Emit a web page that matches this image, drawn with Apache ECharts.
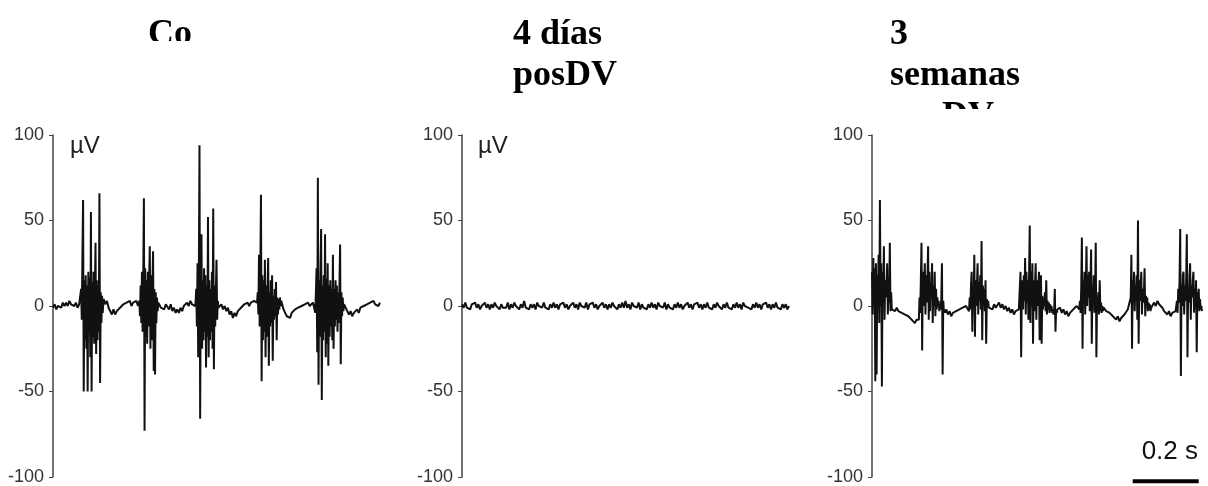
<!DOCTYPE html>
<html>
<head>
<meta charset="utf-8">
<script src="https://cdn.jsdelivr.net/npm/echarts@6/dist/echarts.min.js"></script>
<style>
	html, body { margin: 0; padding: 0; background: #fff; }
	#chart { width: 1208px; height: 486px; }
</style>
</head>
<body>
<div id="chart"></div>
<script>
// baseline every 5 ms (0..1000), bursts every 2 ms from their start time
var baseStep = 5,
	burstStep = 2;

var ctrlBase = [
	-1, 1, -2, 0, 1, -1, 2, 0, 2, 0,
	3, 1, 2, 0, 2, -1, 1, 0, 0, 0,
	0, 0, 0, 0, 0, 0, 0, 0, 0, 0,
	0, 4, 1, 3, -1, -2, -5, -2, -5, -3,
	-4, -1, -2, 1, 0, 2, 1, 3, 0, 2,
	1, 3, 0, 0, 0, 0, 0, 0, 0, 0,
	0, 0, 0, 0, 0, 2, -1, 0, -2, 1,
	0, -2, 1, -3, -1, -4, -2, -4, -1, -3,
	0, -1, 2, 0, 3, 1, 2, 0, 0, 0,
	0, 0, 0, 0, 0, 0, 0, 0, 0, 0,
	0, 2, -1, 1, -2, 0, -3, -1, -5, -3,
	-7, -4, -6, -3, -4, -1, -2, 1, 0, 2,
	0, 2, 1, 3, 2, 0, 0, 0, 0, 0,
	0, 0, 0, 0, 0, 0, 0, 0, 0, 0,
	3, -2, -4, -6, -5, -7, -4, -5, -2, -3,
	-1, -2, 0, -1, 1, 0, 2, 0, 1, 2,
	0, 0, 0, 0, 0, 0, 0, 0, 0, 0,
	0, 0, 0, 0, 0, 0, 0, 0, 0, -1,
	-3, -5, -3, -6, -4, -5, -2, -4, -1, -2,
	0, -1, 1, 0, 2, 1, 3, 1, 2, 0,
	2
];
var ctrlBurstStart = [84, 264, 436, 624, 800];
var ctrlBursts = [
	[2, 10, -8, 30, 62, -50, 15, -20, 18, -25, 12, -50, 20, -15, 17, -30, 55, -50, 14, -18,
		20, -22, 10, 37, -28, 15, -20, 12, -15, 66, -45, 8, -10, 6, -4, 2],
	[3, -6, 12, -10, 20, -15, 18, 63, -73, 22, -18, 15, -22, 20, -12, 16, 35, -25, 18, -20,
		12, 32, -38, 10, -40, 8, -10, 5, -3, 2],
	[2, 10, -12, 25, -30, 18, 94, -66, 20, 42, -25, 15, -20, 22, -15, 18, -36, 12, -18, 52,
		-30, 15, -20, 10, -15, 20, -25, 57, -37, 12, -12, 8, 27, -8, 3, -1],
	[2, 8, -5, 30, -12, 20, 65, -44, 18, -20, 15, -15, 27, -30, 12, -18, 10, 28, -35, 8,
		-12, 15, -10, 18, -32, 6, -8, 10, -6, 14, -20, 5, -5, 4, -2, 5, 0, 3],
	[2, -4, 8, 22, -27, 75, -46, 15, -18, 20, 45, -55, 12, -20, 18, -15, 42, -30, 16, -22,
		25, -35, 12, -18, 15, -12, 10, -20, 30, -25, 10, -12, 15, -8, 12, -15, 8, -10, 12, 36,
		-34, 8, -6, 5, -3, 1]
];

var dvBase = [
	1, -1, 2, -1, 0, -2, 1, 0, 2, -1,
	1, -2, 0, -1, 2, -1, 1, -2, 1, -1,
	2, 0, 1, -2, 1, -1, 0, -1, 2, -2,
	1, -1, 2, 0, 1, -2, 1, -1, 3, -1,
	0, -2, 1, -1, 1, -2, 2, 0, 1, -1,
	2, -1, 0, -2, 1, -1, 2, -1, 1, -2,
	1, 0, 2, -1, 1, -2, 0, -1, 2, -1,
	1, -2, 2, 0, 1, -1, 2, -2, 1, 0,
	2, -1, 1, -2, 0, -1, 2, -1, 1, -2,
	1, -1, 2, 0, 1, -2, 1, -1, 2, -1,
	3, -1, 1, -2, 2, 0, 1, -1, 2, -2,
	1, -1, 0, -2, 1, -1, 2, -1, 1, -2,
	2, 0, 1, -1, 2, -2, 1, -1, 0, -2,
	1, -1, 2, -1, 1, -2, 0, -1, 2, -1,
	1, -2, 1, 0, 2, -1, 1, -2, 1, -1,
	2, -1, 0, -2, 1, -1, 2, 0, 1, -2,
	1, -1, 2, -1, 0, -2, 1, -1, 2, -1,
	1, -2, 2, 0, 1, -1, 0, -2, 1, -1,
	2, -1, 1, -2, 1, 0, 2, -1, 1, -2,
	1, -1, 2, -1, 0, -2, 1, -1, 1, -2,
	0
];

var semBase = [
	0, 0, 0, 0, 0, 0, 0, 0, 0, 0,
	0, 0, 0, -2, -3, -1, -3, -2, -4, -3,
	-5, -4, -6, -5, -8, -7, -10, -8, -9, 0,
	0, 0, 0, 0, 0, 0, 0, 0, 0, 0,
	0, 0, 0, 0, 0, -2, -5, -3, -6, -4,
	-5, -3, -4, -2, -3, -1, -2, 0, -1, 0,
	0, 0, 0, 0, 0, 0, 0, 0, 0, 0,
	0, 0, 0, -2, 1, -1, 0, 2, -1, 1,
	-2, 0, -3, -1, -4, -2, -5, -3, -4, -2,
	0, 0, 0, 0, 0, 0, 0, 0, 0, 0,
	0, 0, 0, 0, 0, 0, 0, 0, 0, 0,
	0, 0, 0, -2, -1, -4, -2, -5, -3, -6,
	-4, -5, -2, -3, 0, -1, 0, 0, 0, 0,
	0, 0, 0, 0, 0, 0, 0, 0, 0, 0,
	0, -1, -3, -2, -4, -3, -6, -5, -8, -6,
	-9, -7, -8, -5, -4, -2, -3, 0, 0, 0,
	0, 0, 0, 0, 0, 0, 0, 0, 0, 0,
	-1, 2, 0, 3, 1, 2, -1, -3, -2, -5,
	-3, -6, -4, -5, -3, 0, 0, 0, 0, 0,
	0, 0, 0, 0, 0, 0, 0, 0, 0, 0,
	0
];
var semBurstStart = [0, 142, 294, 448, 628, 782, 922];
var semBursts = [
	[20, -5, 28, 0, 22, -44, 25, -40, 18, 5, 30, -10, 62, 0, 25, -47, 20, 2, 35, -8,
		15, 5, 12, 25, -5, 10, 2, 37, -3, 8, -2, -1],
	[-8, 5, -4, 15, 37, -26, 20, 0, 12, 25, -5, 18, 2, 15, 35, -8, 20, -3, 14, 5,
		25, -10, 12, 0, 20, -6, 10, -2, 5, 0, 3, -3, 1, -2, 4, 25, -40, 3, -4, -2,
		-4, -3],
	[-3, 5, -2, 12, 20, -15, 10, 2, 30, -18, 15, 0, 12, 25, -5, 14, 3, 18, -2, 38,
		-20, 12, 0, 10, -3, 15, -22, 4, 0, 3, -1, 0],
	[-3, 20, -30, 8, 15, -2, 18, 3, 28, -5, 20, 2, 15, -8, 18, 47, -10, 20, 0, 25,
		-22, 15, -3, 12, 25, -8, 15, 0, 10, 20, -20, 8, 18, -22, 6, -2, 5, 0, 8, -3,
		15, -5, 3, -2, 2, -4, 1, -3, 0, -4, -2, -5, -3, 10, -15, -2, -4, -2],
	[-2, 3, -4, 10, 40, -25, 15, 2, 20, -5, 12, 35, 0, 18, 5, 20, -3, 14, 33, -22,
		10, 3, 18, -4, 8, 37, -30, 5, 0, 8, -5, 15, -3, 2, -4, 0, -3, -1],
	[-3, 5, 30, -25, 15, 2, 20, -3, 12, 5, 18, -8, 50, -22, 15, 3, 12, 20, -5, 10,
		2, 8, 22, -6, 6, 0, 5, -3, 2, -2, 1, -3, -1],
	[-2, 3, -4, 10, 2, 15, 45, -41, 12, 0, 18, 20, -5, 12, 3, 15, 42, -30, 10, 2,
		18, 25, -8, 12, 5, 15, 20, -4, 10, 2, 15, -27, 8, 0, 10, -3, 4, -2, 0, -3]
];

var yTicks = [-100, -50, 0, 50, 100];
var scaleBarT = [790, 990];
var scaleBarV = -102.5;

var titles = [['Co'], ['4 días', 'posDV'], ['3', 'semanas', 'posDV']];

function buildTrace(base, starts, bursts) {
	var pts = [];
	base.forEach(function(v, i) {
		var t = i * baseStep,
			covered = false;
		for(var j = 0; j < starts.length; j++) {
			if(t >= starts[j] && t <= starts[j] + (bursts[j].length - 1) * burstStep) covered = true;
		}
		if(!covered) pts.push([t, v]);
	});
	bursts.forEach(function(b, j) {
		b.forEach(function(v, k) {
			pts.push([starts[j] + k * burstStep, v]);
		});
	});
	pts.sort(function(a, b) {
		return a[0] - b[0];
	});
	return pts;
}

var sans = "'Liberation Sans Narrow', 'Liberation Sans', Arial, sans-serif";
var serif = "'Liberation Serif', 'Times New Roman', serif";

var grids = [
	{ left: 53, top: 135, width: 327, height: 342 },
	{ left: 462, top: 135, width: 327, height: 342 },
	{ left: 872, top: 135, width: 330, height: 342 }
];

var xAxes = [], yAxes = [];
for(var g = 0; g < 3; g++) {
	xAxes.push({ gridIndex: g, type: 'value', min: 0, max: 1000, show: false });
	yAxes.push({
		gridIndex: g,
		type: 'value',
		min: yTicks[0],
		max: yTicks[yTicks.length - 1],
		interval: 50,
		splitLine: { show: false },
		axisLine: { show: true, lineStyle: { color: '#444', width: 1.5 } },
		axisTick: { show: true, length: 4, lineStyle: { color: '#444' } },
		axisLabel: { color: '#333', fontFamily: sans, fontSize: 18, margin: 9 }
	});
}

var traceStyle = { color: '#111', width: 2 };

var series = [
	{ type: 'line', xAxisIndex: 0, yAxisIndex: 0, showSymbol: false, lineStyle: traceStyle,
		data: buildTrace(ctrlBase, ctrlBurstStart, ctrlBursts) },
	{ type: 'line', xAxisIndex: 1, yAxisIndex: 1, showSymbol: false, lineStyle: traceStyle,
		data: buildTrace(dvBase, [], []) },
	{ type: 'line', xAxisIndex: 2, yAxisIndex: 2, showSymbol: false, lineStyle: traceStyle,
		data: buildTrace(semBase, semBurstStart, semBursts) },
	// scale bar 0.2 s
	{ type: 'line', xAxisIndex: 2, yAxisIndex: 2, showSymbol: false, clip: false,
		lineStyle: { color: '#000', width: 4 },
		data: [[scaleBarT[0], scaleBarV], [scaleBarT[1], scaleBarV]] }
];

var titleX = [148, 513, 890];
var graphic = [];
titles.forEach(function(lines, p) {
	lines.forEach(function(line, l) {
		graphic.push({
			type: 'text', z: 10,
			style: { text: line, x: titleX[p], y: 35 + l * 41, verticalAlign: 'middle',
				font: 'bold 36px ' + serif, fill: '#000' }
		});
	});
});
// the title boxes are cut off in the source
graphic.push({ type: 'rect', z: 11, shape: { x: 130, y: 41, width: 100, height: 14 }, style: { fill: '#fff' } });
graphic.push({ type: 'rect', z: 11, shape: { x: 880, y: 109, width: 140, height: 30 }, style: { fill: '#fff' } });

[70, 478].forEach(function(x) {
	graphic.push({
		type: 'text', z: 10,
		style: { text: 'µV', x: x, y: 146, verticalAlign: 'middle', font: '24px ' + sans, fill: '#222' }
	});
});
graphic.push({
	type: 'text', z: 10,
	style: { text: '0.2 s', x: 1198, y: 452, align: 'right', verticalAlign: 'middle', font: '26px ' + sans, fill: '#111' }
});

var chart = echarts.init(document.getElementById('chart'));
chart.setOption({
	animation: false,
	backgroundColor: '#fff',
	grid: grids,
	xAxis: xAxes,
	yAxis: yAxes,
	series: series,
	graphic: graphic
});
</script>
</body>
</html>
